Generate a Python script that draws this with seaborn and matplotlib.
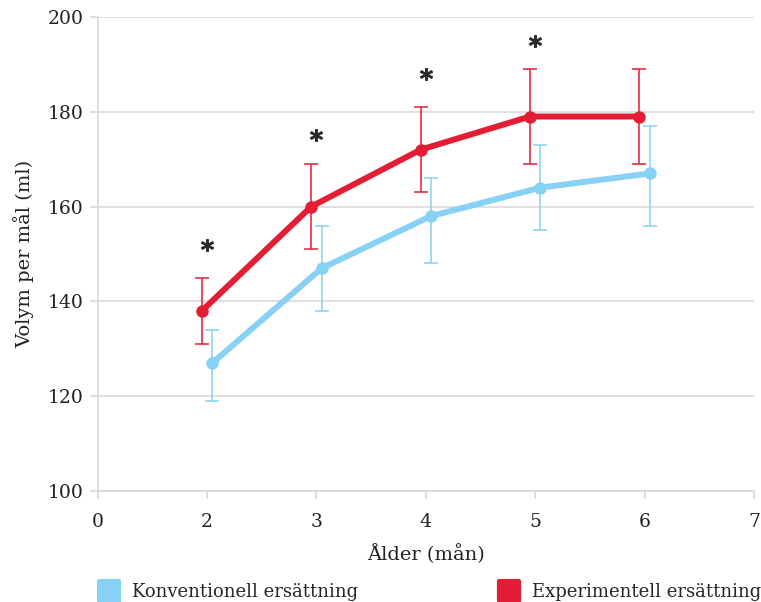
import pandas as pd
import matplotlib.pyplot as plt
import seaborn as sns
from matplotlib.lines import Line2D
from matplotlib.markers import MarkerStyle

# ===============================
# Data
# ===============================
tick_labels = ["0", "2", "3", "4", "5", "6", "7"]
age = [2, 3, 4, 5, 6]

konv_mean = [127, 147, 158, 164, 167]
konv_low = [119, 138, 148, 155, 156]
konv_high = [134, 156, 166, 173, 177]

exp_mean = [138, 160, 172, 179, 179]
exp_low = [131, 151, 163, 169, 169]
exp_high = [145, 169, 181, 189, 189]

star_age = [2, 3, 4, 5]
star_y = [152, 175, 188, 195]

BLUE = "#86D1F4"
RED = "#E21D34"
GRID = "#D9D9D9"
TEXT = "#222222"

sns.set_theme(style="white")
plt.rcParams["font.family"] = ["DejaVu Serif", "Liberation Serif"]
plt.rcParams["mathtext.fontset"] = "dejavuserif"

# category-like x axis: each tick label sits on its own slot
pos = {int(t): i for i, t in enumerate(tick_labels)}
offset = 0.048

rows = []
for a, m in zip(age, konv_mean):
    rows.append({"x": pos[a] + offset, "volym": m, "grupp": "Konventionell ersättning"})
for a, m in zip(age, exp_mean):
    rows.append({"x": pos[a] - offset, "volym": m, "grupp": "Experimentell ersättning"})
df = pd.DataFrame(rows)

fig = plt.figure(figsize=(7.61, 6.02), dpi=100)
ax = fig.add_axes([0.1284, 0.1844, 0.8624, 0.7874])

# error bars first, lines on top
for mean, lo, hi, col, sgn in [
    (konv_mean, konv_low, konv_high, BLUE, 1),
    (exp_mean, exp_low, exp_high, RED, -1),
]:
    xs = [pos[a] + sgn * offset for a in age]
    yerr = [[m - l for m, l in zip(mean, lo)], [h - m for m, h in zip(mean, hi)]]
    ax.errorbar(xs, mean, yerr=yerr, fmt="none", ecolor=col,
                elinewidth=1.1, capsize=5, capthick=1.1, zorder=2)

sns.lineplot(
    data=df, x="x", y="volym", hue="grupp",
    hue_order=["Konventionell ersättning", "Experimentell ersättning"],
    palette=[BLUE, RED], marker="o", markersize=9, markeredgewidth=0,
    linewidth=4.3, legend=False, ax=ax, zorder=3,
)

# significance asterisks
ax.plot([pos[a] for a in star_age], star_y, linestyle="none",
        marker="$*$", markersize=8.5, color="#2a2a2a", zorder=4)

ax.set_xlim(0, len(tick_labels) - 1)
ax.set_ylim(100, 200)
ax.set_xticks(range(len(tick_labels)))
ax.set_xticklabels(tick_labels)
ax.set_yticks(range(100, 201, 20))
ax.yaxis.grid(True, color=GRID, linewidth=1.2)
ax.xaxis.grid(False)
ax.tick_params(axis="both", colors=GRID, labelcolor=TEXT, labelsize=13.5,
               length=6, width=1.2, direction="out", left=True, bottom=True)
ax.tick_params(axis="x", pad=10)
ax.tick_params(axis="y", pad=4)
for s in ["top", "right"]:
    ax.spines[s].set_visible(False)
for s in ["left", "bottom"]:
    ax.spines[s].set_color(GRID)
    ax.spines[s].set_linewidth(1.2)

ax.set_xlabel("Ålder (mån)", fontsize=14, color=TEXT, labelpad=9)
ax.set_ylabel("Volym per mål (ml)", fontsize=14, color=TEXT, labelpad=10)

sq = MarkerStyle("s", joinstyle="round")
handles = [
    Line2D([], [], linestyle="none", marker=sq, markersize=14, color=BLUE,
           markeredgewidth=3),
    Line2D([], [], linestyle="none", marker=sq, markersize=14, color=RED,
           markeredgewidth=3),
]
fig.legend(handles, ["Konventionell ersättning", "Experimentell ersättning"],
           loc="upper left", bbox_to_anchor=(0.122, 0.043), ncol=2,
           frameon=False, fontsize=13.0, handlelength=1.0, handletextpad=0.75,
           columnspacing=7.9, borderaxespad=0)

fig.savefig("out.png", dpi=100)
